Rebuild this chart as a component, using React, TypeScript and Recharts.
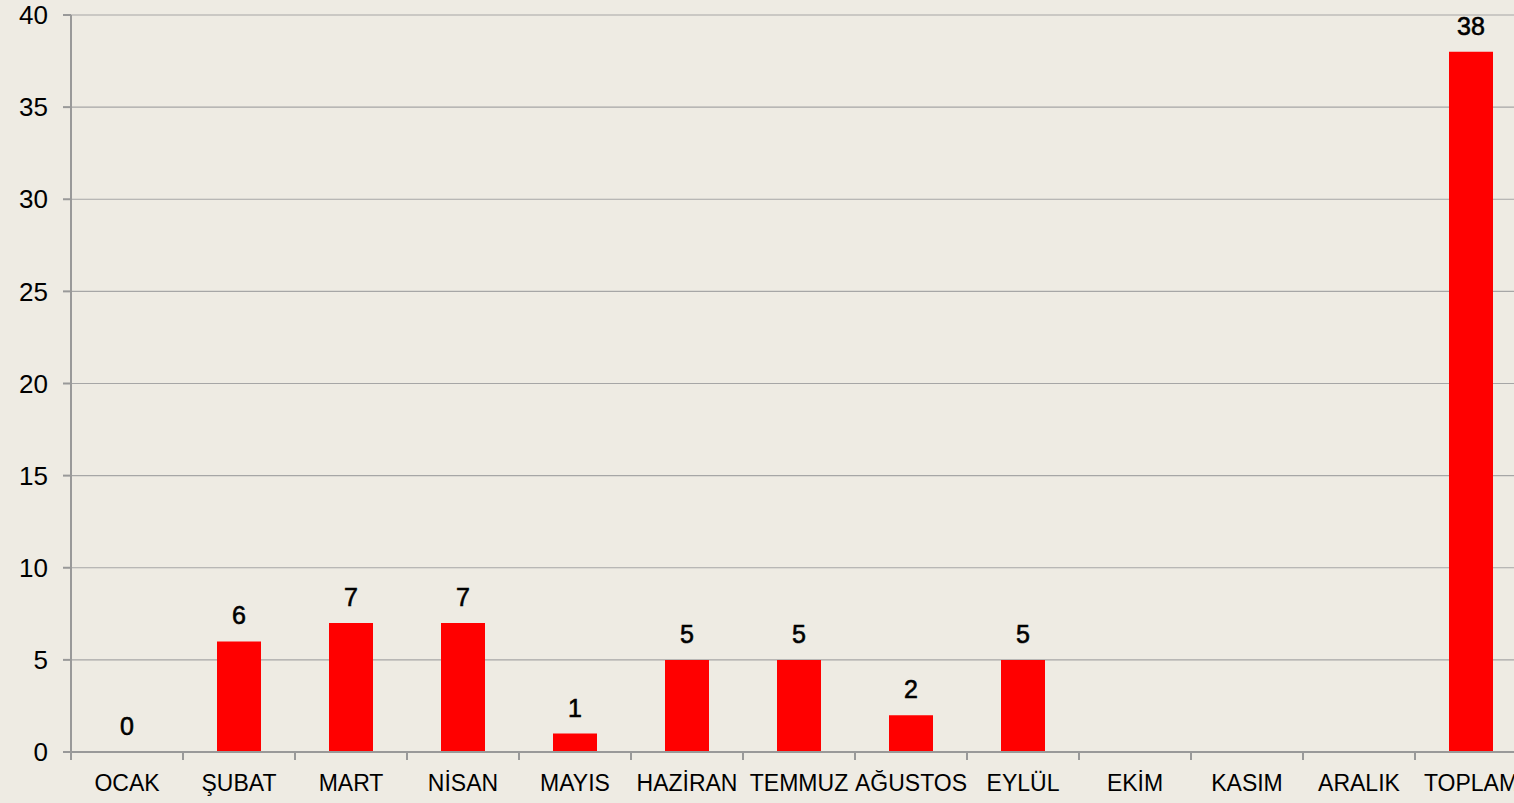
import { BarChart, Bar, XAxis, YAxis, CartesianGrid, LabelList } from "recharts";

const months = [
  "OCAK",
  "ŞUBAT",
  "MART",
  "NİSAN",
  "MAYIS",
  "HAZİRAN",
  "TEMMUZ",
  "AĞUSTOS",
  "EYLÜL",
  "EKİM",
  "KASIM",
  "ARALIK",
  "TOPLAM",
];

const counts = [0, 6, 7, 7, 1, 5, 5, 2, 5, null, null, null, 38];

const yTicks = [0, 5, 10, 15, 20, 25, 30, 35, 40];

const data = months.map((m, i) => ({ month: m, value: counts[i] }));

const font = "'Liberation Sans', Arial, sans-serif";

// label centred in the band, tick mark on the band's left edge
function MonthTick(props: any) {
  const { x, y, payload } = props;
  const half = payload.offset ?? 56;
  return (
    <g>
      <line x1={x - half} y1={y - 8} x2={x - half} y2={y} stroke="#999" strokeWidth={2} />
      <text x={x} y={y + 31} textAnchor="middle" fontSize={23} fontFamily={font} fill="#000">
        {payload.value}
      </text>
    </g>
  );
}

// value above the bar, drawn for zero too
function ValueLabel(props: any) {
  const { x, y, width, value } = props;
  if (value === null || value === undefined || value === "") return null;
  return (
    <text
      x={Number(x) + Number(width) / 2}
      y={Number(y) - 17}
      textAnchor="middle"
      fontSize={25}
      fontFamily={font}
      fill="#000"
      stroke="#000"
      strokeWidth={0.6}
    >
      {value}
    </text>
  );
}

export default function App() {
  return (
    <div
      style={{
        position: "absolute",
        left: 0,
        top: 0,
        width: 1514,
        height: 803,
        overflow: "hidden",
        background: "#EEEBE3",
      }}
    >
      <BarChart
        width={1530}
        height={803}
        data={data}
        margin={{ top: 15, right: 3, bottom: 0, left: 0 }}
        barCategoryGap={0}
      >
        <CartesianGrid vertical={false} stroke="#a6a6a6" strokeWidth={1.2} />
        <XAxis
          dataKey="month"
          height={51}
          interval={0}
          axisLine={{ stroke: "#999", strokeWidth: 2 }}
          tickLine={false}
          tick={<MonthTick />}
        />
        <YAxis
          width={71}
          domain={[0, 40]}
          ticks={yTicks}
          interval={0}
          tickSize={8}
          tickMargin={15}
          axisLine={{ stroke: "#999", strokeWidth: 2 }}
          tickLine={{ stroke: "#999", strokeWidth: 2 }}
          tick={{ fill: "#000", fontSize: 26, fontFamily: font }}
        />
        <Bar
          dataKey="value"
          fill="#FF0000"
          barSize={44}
          minPointSize={0.01}
          isAnimationActive={false}
        >
          <LabelList dataKey="value" content={<ValueLabel />} />
        </Bar>
      </BarChart>
    </div>
  );
}
